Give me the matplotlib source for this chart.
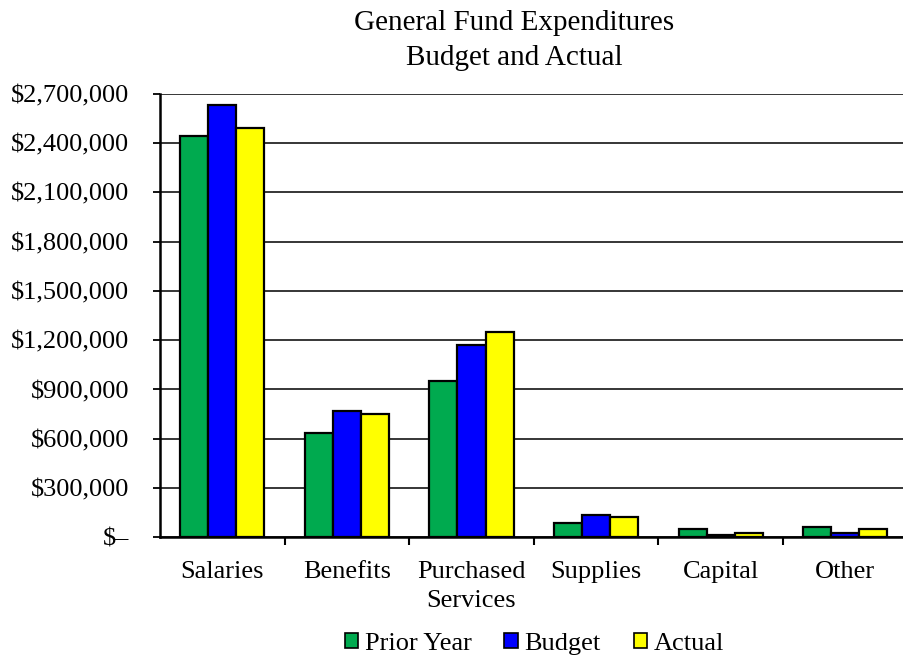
import numpy as np
import matplotlib
matplotlib.use("Agg")
import matplotlib.pyplot as plt
from matplotlib.patches import Patch
from matplotlib.ticker import FuncFormatter, MultipleLocator

categories = ["Salaries", "Benefits", "Purchased\nServices", "Supplies", "Capital", "Other"]
prior_year = [2444000, 633000, 950000, 86000, 49000, 61000]
budget = [2630000, 769000, 1169000, 134000, 12000, 24000]
actual = [2493000, 752000, 1251000, 122000, 24000, 49000]

series = ["Prior Year", "Budget", "Actual"]
colors = ["#00AA4F", "#0000FF", "#FFFF00"]

plt.rcParams['font.family'] = ['Liberation Serif', 'DejaVu Serif']

fig = plt.figure(figsize=(9.04, 6.55), dpi=100)
ax = fig.add_axes([0.177, 0.1797, 0.827, 0.677])

x = np.arange(len(categories))
w = 0.225
for i, (vals, c) in enumerate(zip([prior_year, budget, actual], colors)):
    ax.bar(x + (i - 1) * w, vals, w, color=c, edgecolor="black", linewidth=1.6, zorder=3)

ax.set_xlim(-0.5, len(categories) - 0.5)
ax.set_ylim(0, 2700000)
ax.yaxis.set_major_locator(MultipleLocator(300000))

def money(v, pos):
    if v == 0:
        return "$\u2013"
    return "${:,.0f}".format(v)

ax.yaxis.set_major_formatter(FuncFormatter(money))
ax.grid(axis="y", color="black", linewidth=1.1, zorder=1)
ax.set_axisbelow(True)

for s in ["top", "right"]:
    ax.spines[s].set_visible(False)
ax.spines["left"].set_linewidth(1.8)
ax.spines["bottom"].set_linewidth(1.8)

ax.tick_params(axis="y", length=5, width=1.3, pad=17, labelsize=19)
ax.set_xticks(x)
ax.set_xticklabels(categories, fontsize=19, linespacing=1.4)
ax.tick_params(axis="x", which="major", length=0, pad=17)
ax.set_xticks(np.arange(0.5, len(categories) - 0.5, 1), minor=True)
ax.tick_params(axis="x", which="minor", length=6, width=1.5, direction="out")

fig.text(0.569, 0.984, "General Fund Expenditures\nBudget and Actual",
         ha="center", va="top", fontsize=21, linespacing=1.42)

handles = [Patch(facecolor=c, edgecolor="black", linewidth=1.2) for c in colors]
fig.legend(handles, series, loc="center", bbox_to_anchor=(0.591, 0.017), ncol=3,
           frameon=False, fontsize=19, handlelength=0.5, handleheight=0.5,
           handletextpad=0.25, columnspacing=1.25)

fig.savefig("out.png", dpi=100)
